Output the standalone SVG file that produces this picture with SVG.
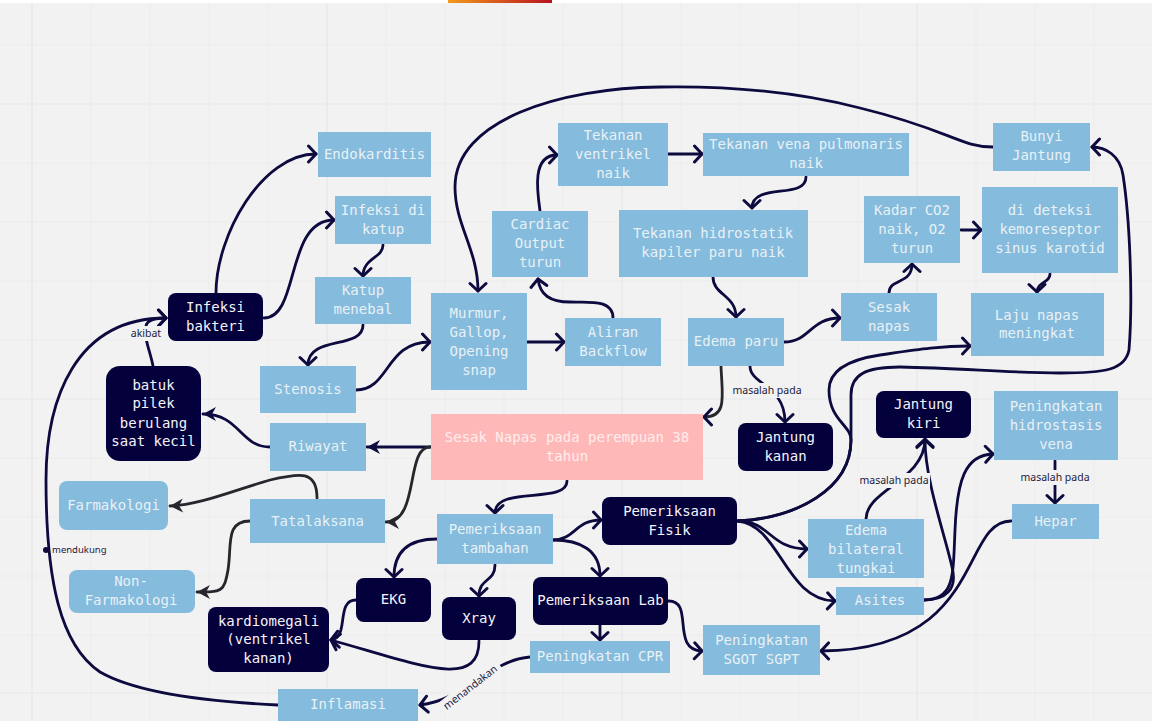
<svg xmlns="http://www.w3.org/2000/svg" width="1152" height="721" viewBox="0 0 1152 721">
<style>
.g{stroke:#ececec;stroke-width:1;fill:none}
.G{stroke:#e7e7e7;stroke-width:1.2;fill:none}
.c{fill:none;stroke:#0c0a3e;stroke-width:2.8;stroke-linecap:round;marker-end:url(#a)}
.k{fill:none;stroke:#26262c;stroke-width:2.8;stroke-linecap:round;marker-end:url(#f)}
.b{fill:#85bbdc}
.d{fill:#04003c}
.p{fill:#ffb8b8}
text{font-family:"DejaVu Sans Mono","Liberation Mono",monospace;font-size:14px;text-anchor:middle;fill:#e8f1f6}
.dt{fill:#f4f4f8}
.pt{fill:#fdeeee}
.l{font-family:"Noto Sans","Open Sans",sans-serif;font-size:10.5px;fill:#1c1a40}
.lb{fill:#f2f2f2}
</style>
<defs>
<linearGradient id="top" x1="0" x2="1" y1="0" y2="0"><stop offset="0" stop-color="#f39a1c"/><stop offset="1" stop-color="#b8121e"/></linearGradient>
<marker id="a" markerUnits="userSpaceOnUse" markerWidth="18" markerHeight="20" refX="11" refY="10" orient="auto"><path d="M3.500 2L11 10L3.500 18" fill="none" stroke="#0c0a3e" stroke-width="3" stroke-linecap="round" stroke-linejoin="round"/></marker>
<marker id="f" markerUnits="userSpaceOnUse" markerWidth="18" markerHeight="20" refX="14" refY="10" orient="auto"><path d="M1 3L14 10L1 17L5 10Z" fill="#26262c"/></marker>
<marker id="fn" markerUnits="userSpaceOnUse" markerWidth="18" markerHeight="20" refX="14" refY="10" orient="auto"><path d="M1 3L14 10L1 17L5 10Z" fill="#0c0a3e"/></marker>
</defs>
<rect width="1152" height="721" fill="#f2f2f2"/>
<g id="grid">
<path class="g" d="M91 3V721M150 3V721M209 3V721M268 3V721M386 3V721M445 3V721M504 3V721M563 3V721M681 3V721M740 3V721M799 3V721M858 3V721M976 3V721M1035 3V721M1094 3V721M0 45H1152M0 163H1152M0 222H1152M0 281H1152M0 340H1152M0 458H1152M0 517H1152M0 576H1152M0 635H1152"/>
<path class="G" d="M32 3V721M327 3V721M622 3V721M917 3V721M0 104H1152M0 399H1152M0 693H1152"/>
</g>
<g id="topbar">
<rect width="1152" height="3" fill="#ffffff"/>
<rect x="448" width="104" height="3" fill="url(#top)"/>
</g>
<g id="connectors">
<path class="c" d="M216 293C216 235 262 154 316 154"/>
<path class="c" d="M264 318C300 318 285 220 334 220"/>
<path class="c" d="M383 245C383 258 363 258 363 276"/>
<path class="c" d="M363 325C363 350 308 335 308 365"/>
<path class="c" d="M356 390C390 390 385 342 430 342"/>
<path class="c" d="M527 342L564 342"/>
<path class="c" d="M613 318C613 298 585 303 570 302C550 302 540 295 538 279"/>
<path class="c" d="M540 211C537 190 532 155 557 155"/>
<path class="c" d="M668 154L702 154"/>
<path class="c" d="M806 177C806 200 752 182 752 208"/>
<path class="c" d="M713 277C713 295 736 295 736 317"/>
<path class="c" d="M784 342C810 342 810 318 840 318"/>
<path class="c" d="M889 293C889 278 912 285 912 264"/>
<path class="c" d="M961 230L981 230"/>
<path class="c" d="M1050 274C1050 283 1037 282 1037 292"/>
<path class="c" d="M993 147C960 147 950 130 860 108C790 90 720 86 660 87C560 88 455 120 455 187C455 225 478 250 478 291"/>
<path class="c" d="M738 521C795 518 851 490 851 440C851 425 829 420 829 390C829 365 860 358 880 355C915 350 940 346 970 346"/>
<path class="c" d="M738 521C795 518 851 490 851 440C851 425 851 410 851 395C851 375 865 367 900 367C960 368 1010 373 1060 373C1105 373 1125 370 1129 350C1133 300 1130 220 1123 175C1120 155 1105 147 1092 147"/>
<path class="c" d="M738 521C770 521 770 549 807 549"/>
<path class="c" d="M738 521C780 525 785 600 835 601"/>
<path class="c" d="M924 600C955 600 953 575 955 530C957 480 965 455 993 454"/>
<path class="c" d="M924 600C945 600 958 590 952 567C945 535 925 480 925 440"/>
<path class="c" d="M866 519C866 490 925 480 925 439"/>
<path class="c" d="M1011 521C960 521 985 650 821 651"/>
<path class="c" d="M1055 461L1055 503"/>
<path class="c" d="M750 366C750 385 785 385 785 422"/>
<path class="k" style="marker-end:url(#a)" d="M721 366C722 395 728 417 704 417"/>
<path class="c" style="marker-end:url(#fn)" d="M431 447L367 447"/>
<path class="k" d="M430 447C405 447 420 522 386 522"/>
<path class="c" style="marker-end:url(#fn)" d="M270 447C240 447 240 414 203 414"/>
<path class="c" d="M153 366C150 350 144 340 146 326C147 320 155 318 166 318"/>
<path class="c" d="M278 705C215 702 140 695 100 672C60 645 46 580 46 480C46 400 75 318 166 318"/>
<path class="k" d="M317 498C317 470 300 473 270 480C235 490 200 505 170 506"/>
<path class="k" d="M250 521C225 521 232 545 228 570C224 592 222 592 197 592"/>
<path class="c" d="M567 481C567 505 495 485 495 513"/>
<path class="c" d="M553 540C575 540 575 520 601 520"/>
<path class="c" d="M437 539C410 539 394 550 394 577"/>
<path class="c" d="M495 565C495 582 479 578 479 596"/>
<path class="c" d="M553 540C580 540 600 550 600 576"/>
<path class="c" d="M600 625L600 640"/>
<path class="c" d="M668 601C695 600 670 650 702 651"/>
<path class="c" d="M356 600C335 600 350 638 331 640"/>
<path class="c" d="M479 641C479 690 420 665 331 640"/>
<path class="c" d="M530 657C490 660 465 700 420 705"/>
<rect class="lb" x="129" y="326" width="35" height="15"/>
<text class="l" x="146" y="337">akibat</text>
<circle cx="46" cy="550" r="3" fill="#0c0a3e"/>
<text class="l" x="52" y="553" style="text-anchor:start;font-size:9.5px">mendukung</text>
<rect class="lb" x="731" y="383" width="72" height="15"/>
<text class="l" x="767" y="394">masalah pada</text>
<rect class="lb" x="858" y="473" width="72" height="15"/>
<text class="l" x="894" y="484">masalah pada</text>
<rect class="lb" x="1019" y="470" width="72" height="15"/>
<text class="l" x="1055" y="481">masalah pada</text>
<g transform="rotate(-38 470 687)">
<rect class="lb" x="433" y="680" width="74" height="14"/>
<text class="l" x="470" y="691">menandakan</text>
</g>
</g>
<g id="endokarditis"><rect class="b" x="318" y="132" width="113" height="45"/><text x="374.500" y="159">Endokarditis</text></g>
<g id="infeksi-katup"><rect class="b" x="335" y="196" width="96" height="48"/><text x="383" y="215">Infeksi di</text><text x="383" y="234">katup</text></g>
<g id="katup-menebal"><rect class="b" x="315" y="277" width="96" height="47"/><text x="363" y="295">Katup</text><text x="363" y="314">menebal</text></g>
<g id="infeksi-bakteri"><rect class="d" x="168" y="293" width="95" height="48" rx="8"/><text class="dt" x="215.500" y="312">Infeksi</text><text class="dt" x="215.500" y="331">bakteri</text></g>
<g id="murmur"><rect class="b" x="431" y="293" width="96" height="97"/><text x="479" y="318">Murmur,</text><text x="479" y="337">Gallop,</text><text x="479" y="356">Opening</text><text x="479" y="375">snap</text></g>
<g id="cardiac"><rect class="b" x="492" y="211" width="96" height="66"/><text x="540" y="229">Cardiac</text><text x="540" y="248">Output</text><text x="540" y="267">turun</text></g>
<g id="tekanan-ventrikel"><rect class="b" x="558" y="123" width="110" height="63"/><text x="613" y="140">Tekanan</text><text x="613" y="159">ventrikel</text><text x="613" y="178">naik</text></g>
<g id="tekanan-vena"><rect class="b" x="703" y="133" width="206" height="43"/><text x="806" y="149">Tekanan vena pulmonaris</text><text x="806" y="168">naik</text></g>
<g id="tekanan-hidrostatik"><rect class="b" x="619" y="210" width="189" height="67"/><text x="713" y="238">Tekanan hidrostatik</text><text x="713" y="257">kapiler paru naik</text></g>
<g id="kadar"><rect class="b" x="864" y="196" width="96" height="67"/><text x="912" y="215">Kadar CO2</text><text x="912" y="234">naik, O2</text><text x="912" y="253">turun</text></g>
<g id="kemoreseptor"><rect class="b" x="982" y="187" width="136" height="86"/><text x="1050" y="215">di deteksi</text><text x="1050" y="234">kemoreseptor</text><text x="1050" y="253">sinus karotid</text></g>
<g id="bunyi-jantung"><rect class="b" x="993" y="123" width="97" height="48"/><text x="1041.500" y="141">Bunyi</text><text x="1041.500" y="160">Jantung</text></g>
<g id="sesak-napas"><rect class="b" x="841" y="293" width="96" height="48"/><text x="889" y="312">Sesak</text><text x="889" y="331">napas</text></g>
<g id="laju-napas"><rect class="b" x="971" y="293" width="133" height="63"/><text x="1037" y="320">Laju napas</text><text x="1037" y="338">meningkat</text></g>
<g id="aliran"><rect class="b" x="565" y="318" width="96" height="48"/><text x="613" y="337">Aliran</text><text x="613" y="356">Backflow</text></g>
<g id="edema-paru"><rect class="b" x="688" y="318" width="96" height="48"/><text x="736" y="346">Edema paru</text></g>
<g id="stenosis"><rect class="b" x="260" y="366" width="96" height="47"/><text x="308" y="394">Stenosis</text></g>
<g id="batuk"><rect class="d" x="106" y="366" width="95" height="95" rx="14"/><text class="dt" x="153.500" y="390">batuk</text><text class="dt" x="153.500" y="408">pilek</text><text class="dt" x="153.500" y="428">berulang</text><text class="dt" x="153.500" y="446">saat kecil</text></g>
<g id="riwayat"><rect class="b" x="270" y="423" width="96" height="48"/><text x="318" y="451">Riwayat</text></g>
<g id="utama"><rect class="p" x="431" y="414" width="272" height="66"/><text class="pt" x="567" y="442">Sesak Napas pada perempuan 38</text><text class="pt" x="567" y="461">tahun</text></g>
<g id="farmakologi"><rect class="b" x="59" y="481" width="109" height="49" rx="8"/><text x="113.500" y="510">Farmakologi</text></g>
<g id="tatalaksana"><rect class="b" x="250" y="499" width="135" height="44"/><text x="317.500" y="526">Tatalaksana</text></g>
<g id="pemeriksaan-tambahan"><rect class="b" x="437" y="514" width="116" height="50"/><text x="495" y="534">Pemeriksaan</text><text x="495" y="553">tambahan</text></g>
<g id="pemeriksaan-fisik"><rect class="d" x="602" y="497" width="135" height="48" rx="8"/><text class="dt" x="669.500" y="516">Pemeriksaan</text><text class="dt" x="669.500" y="535">Fisik</text></g>
<g id="jantung-kanan"><rect class="d" x="738" y="423" width="95" height="48" rx="8"/><text class="dt" x="785.500" y="442">Jantung</text><text class="dt" x="785.500" y="461">kanan</text></g>
<g id="jantung-kiri"><rect class="d" x="876" y="391" width="95" height="47" rx="8"/><text class="dt" x="923.500" y="409">Jantung</text><text class="dt" x="923.500" y="428">kiri</text></g>
<g id="hidrostasis"><rect class="b" x="994" y="391" width="124" height="69"/><text x="1056" y="411">Peningkatan</text><text x="1056" y="430">hidrostasis</text><text x="1056" y="449">vena</text></g>
<g id="hepar"><rect class="b" x="1012" y="504" width="87" height="35"/><text x="1055.500" y="526">Hepar</text></g>
<g id="edema-bilateral"><rect class="b" x="808" y="519" width="116" height="59"/><text x="866" y="535">Edema</text><text x="866" y="554">bilateral</text><text x="866" y="573">tungkai</text></g>
<g id="asites"><rect class="b" x="836" y="587" width="88" height="28"/><text x="880" y="605">Asites</text></g>
<g id="non-farmakologi"><rect class="b" x="69" y="570" width="126" height="43" rx="8"/><text x="131" y="586">Non-</text><text x="131" y="605">Farmakologi</text></g>
<g id="ekg"><rect class="d" x="356" y="578" width="75" height="44" rx="8"/><text class="dt" x="393.500" y="604">EKG</text></g>
<g id="xray"><rect class="d" x="442" y="597" width="74" height="43" rx="8"/><text class="dt" x="479" y="623">Xray</text></g>
<g id="pemeriksaan-lab"><rect class="d" x="533" y="577" width="135" height="48" rx="8"/><text class="dt" x="600.500" y="605">Pemeriksaan Lab</text></g>
<g id="kardiomegali"><rect class="d" x="208" y="607" width="121" height="65" rx="8"/><text class="dt" x="268.500" y="626">kardiomegali</text><text class="dt" x="268.500" y="644">(ventrikel</text><text class="dt" x="268.500" y="663">kanan)</text></g>
<g id="peningkatan-cpr"><rect class="b" x="530" y="641" width="140" height="32"/><text x="600" y="661">Peningkatan CPR</text></g>
<g id="peningkatan-sgot"><rect class="b" x="703" y="625" width="117" height="50"/><text x="761.500" y="645">Peningkatan</text><text x="761.500" y="664">SGOT SGPT</text></g>
<g id="inflamasi"><rect class="b" x="278" y="689" width="140" height="32"/><text x="348" y="709">Inflamasi</text></g>
</svg>
